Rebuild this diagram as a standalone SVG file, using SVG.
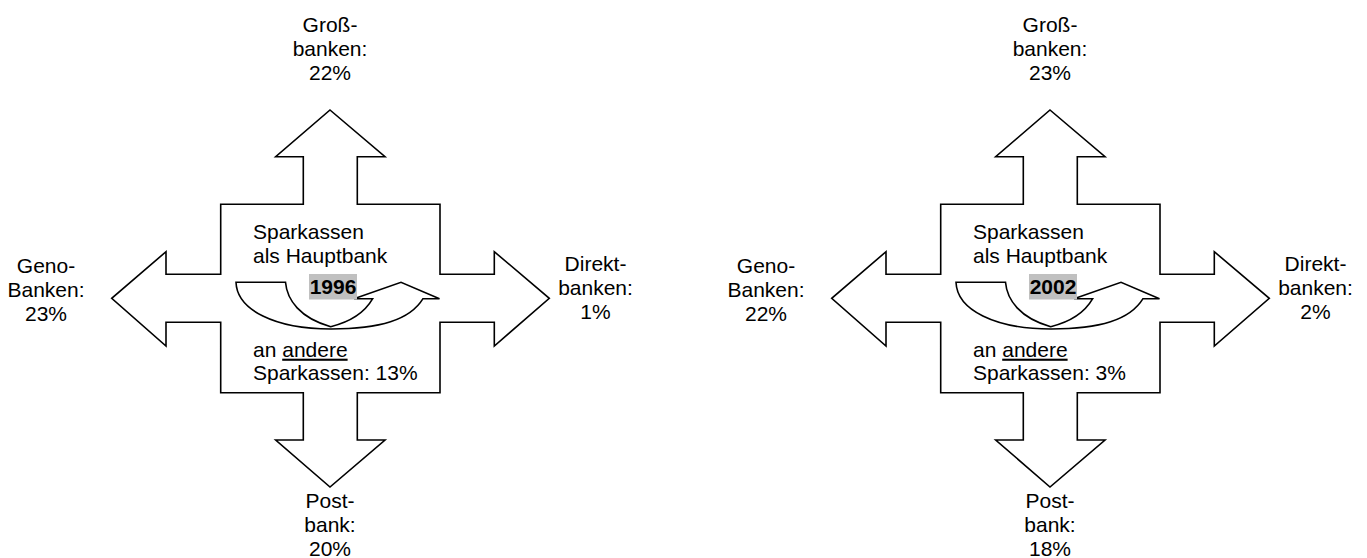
<svg xmlns="http://www.w3.org/2000/svg" xmlns:xlink="http://www.w3.org/1999/xlink" width="1367" height="558" viewBox="0 0 1367 558">
<style>
text{font-family:"Liberation Sans",Arial,sans-serif;font-size:21px;fill:#000}
.c{text-anchor:middle}
.b{font-weight:bold}
.shape{fill:#fff;stroke:#000;stroke-width:1.6;stroke-linejoin:miter}
.hl{fill:#c0c0c0}
.u{text-decoration:underline}
</style>
<defs>
<path id="quad" d="M330,110 L385,156.7 L357.3,156.7 L357.3,204.3 L440,204.3 L440,274.3 L494.3,274.3 L494.3,251.7 L549.3,298.3 L494.3,346 L494.3,322.3 L440,322.3 L440,392.7 L357.3,392.7 L357.3,440 L385,440 L330,487 L275.7,440 L303.3,440 L303.3,392.7 L220.7,392.7 L220.7,322.3 L166,322.3 L166,346 L111.7,298.3 L166,251.7 L166,274.3 L220.7,274.3 L220.7,204.3 L303.3,204.3 L303.3,156.7 L275.7,156.7 Z"/>
<path id="uturn" d="M236,282.3 L285.5,282.3 C287,300 300,318 330.7,326.7 C350,322 365,312 372.7,298.7 L354,298.7 L401,282.3 L439.5,298.7 L423,298.7 C410,320 380,329 331,329 C275,329 237,310 236,282.3 Z"/>
</defs>

<g id="diagram-1996">
  <g id="node-quad-1996"><use xlink:href="#quad" class="shape"/></g>
  <g id="node-center-1996">
    <text x="253" y="239">Sparkassen</text>
    <text x="253" y="262.5">als Hauptbank</text>
    <text x="253" y="356.7">an <tspan class="u">andere</tspan></text>
    <text x="253" y="380">Sparkassen: 13%</text>
  </g>
  <g id="connectors-1996"><use xlink:href="#uturn" class="shape"/></g>
  <g id="node-year-1996">
    <rect class="hl" x="309" y="274" width="48" height="25.5"/>
    <text class="c b" x="333" y="294">1996</text>
  </g>
  <g id="node-gross-1996">
    <text class="c" x="330" y="32">Groß-</text>
    <text class="c" x="330" y="56">banken:</text>
    <text class="c" x="330" y="80">22%</text>
  </g>
  <g id="node-geno-1996">
    <text class="c" x="46" y="273">Geno-</text>
    <text class="c" x="46" y="297">Banken:</text>
    <text class="c" x="46" y="321">23%</text>
  </g>
  <g id="node-direkt-1996">
    <text class="c" x="595.5" y="271">Direkt-</text>
    <text class="c" x="595.5" y="295">banken:</text>
    <text class="c" x="595.5" y="319">1%</text>
  </g>
  <g id="node-post-1996">
    <text class="c" x="330" y="508">Post-</text>
    <text class="c" x="330" y="532">bank:</text>
    <text class="c" x="330" y="556">20%</text>
  </g>
</g>

<g id="diagram-2002" transform="translate(720,0)">
  <g id="node-quad-2002"><use xlink:href="#quad" class="shape"/></g>
  <g id="node-center-2002">
    <text x="253" y="239">Sparkassen</text>
    <text x="253" y="262.5">als Hauptbank</text>
    <text x="253" y="356.7">an <tspan class="u">andere</tspan></text>
    <text x="253" y="380">Sparkassen: 3%</text>
  </g>
  <g id="connectors-2002"><use xlink:href="#uturn" class="shape"/></g>
  <g id="node-year-2002">
    <rect class="hl" x="309" y="274" width="48" height="25.5"/>
    <text class="c b" x="333" y="294">2002</text>
  </g>
  <g id="node-gross-2002">
    <text class="c" x="330" y="32">Groß-</text>
    <text class="c" x="330" y="56">banken:</text>
    <text class="c" x="330" y="80">23%</text>
  </g>
  <g id="node-geno-2002">
    <text class="c" x="46" y="273">Geno-</text>
    <text class="c" x="46" y="297">Banken:</text>
    <text class="c" x="46" y="321">22%</text>
  </g>
  <g id="node-direkt-2002">
    <text class="c" x="595.5" y="271">Direkt-</text>
    <text class="c" x="595.5" y="295">banken:</text>
    <text class="c" x="595.5" y="319">2%</text>
  </g>
  <g id="node-post-2002">
    <text class="c" x="330" y="508">Post-</text>
    <text class="c" x="330" y="532">bank:</text>
    <text class="c" x="330" y="556">18%</text>
  </g>
</g>
</svg>
